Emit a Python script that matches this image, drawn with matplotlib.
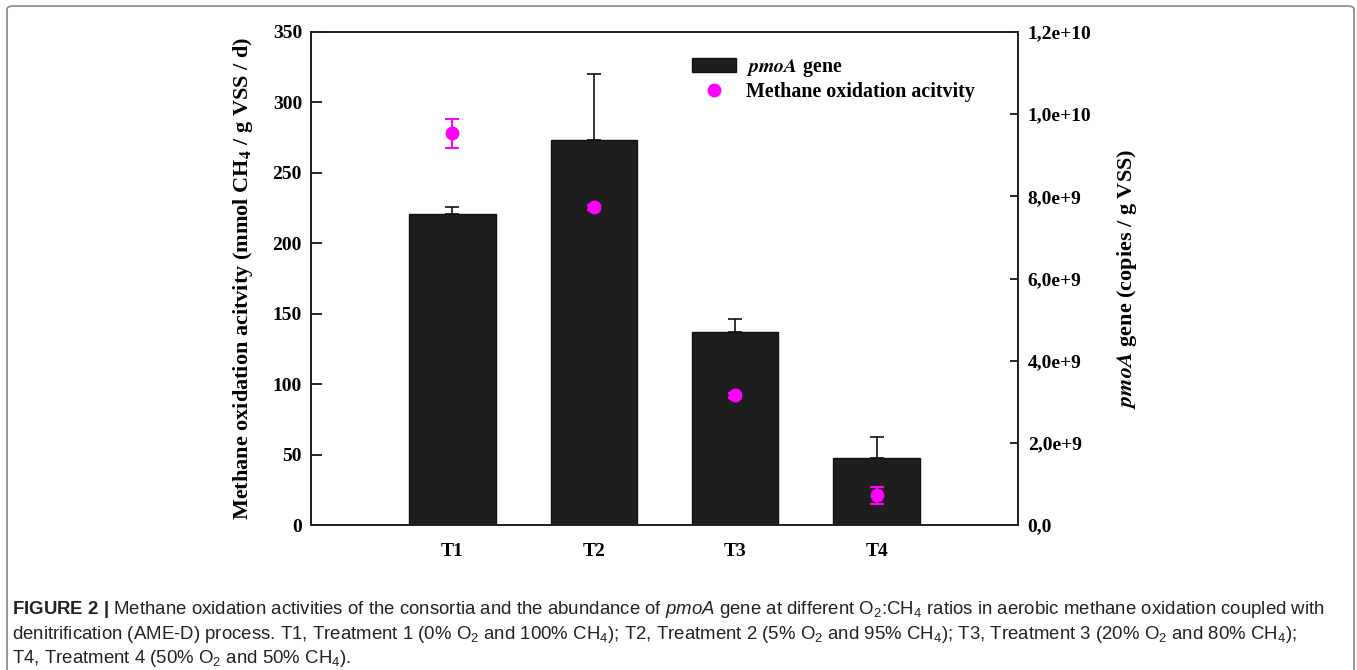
import matplotlib
matplotlib.use('Agg')
import matplotlib.pyplot as plt
from matplotlib.patches import Patch, FancyBboxPatch
from matplotlib.lines import Line2D

plt.rcParams['mathtext.fontset'] = 'custom'
plt.rcParams['mathtext.rm'] = 'Liberation Sans'
plt.rcParams['mathtext.it'] = 'Liberation Sans:italic'
plt.rcParams['mathtext.bf'] = 'Liberation Sans:bold'

# data
treatments = ['T1', 'T2', 'T3', 'T4']
pmoa_gene = [7.58e9, 9.37e9, 4.70e9, 1.63e9]
pmoa_err = [0.16e9, 1.61e9, 0.31e9, 0.51e9]
activity = [278.0, 225.5, 92.0, 21.0]
activity_err = [10.0, 2.0, 2.0, 6.0]
left_ticks = [0, 50, 100, 150, 200, 250, 300, 350]
right_ticks = [0, 2e9, 4e9, 6e9, 8e9, 1e10, 1.2e10]
right_labels = ['0,0', '2,0e+9', '4,0e+9', '6,0e+9', '8,0e+9', '1,0e+10', '1,2e+10']

serif = 'Liberation Serif'
magenta = '#ff00ff'

fig = plt.figure(figsize=(13.57, 6.70), dpi=100)
ax = fig.add_axes([311/1357, 1-525/670, 707/1357, 493/670])
ax2 = ax.twinx()

x = range(len(treatments))
ax2.bar(x, pmoa_gene, width=0.61, color='#1e1e1e', edgecolor='#111111', linewidth=1,
        yerr=[[0]*4, pmoa_err], capsize=5, error_kw=dict(ecolor='#111111', elinewidth=1.2, capthick=1.2))
ax.errorbar(x, activity, yerr=activity_err, fmt='o', color=magenta, ms=9,
            capsize=5, elinewidth=1.5, capthick=1.5)

ax.set_zorder(ax2.get_zorder() + 1)
ax.patch.set_visible(False)

ax.set_xlim(-1.0, 4.0)
ax.set_ylim(0, 350)
ax2.set_ylim(0, 1.2e10)
ax.set_yticks(left_ticks)
ax.set_yticklabels([str(t) for t in left_ticks])
ax2.set_yticks(right_ticks)
ax2.set_yticklabels(right_labels)
ax.set_xticks(list(x))
ax.set_xticklabels(treatments)

for a in (ax, ax2):
    for s in a.spines.values():
        s.set_linewidth(1.3)
        s.set_color('#222222')
    for lab in a.get_yticklabels() + a.get_xticklabels():
        lab.set_fontfamily(serif)
        lab.set_fontweight('bold')
        lab.set_fontsize(14)
ax.tick_params(axis='y', direction='in', length=8, width=1.2, pad=6.5)
ax2.tick_params(axis='y', direction='in', length=6, width=1.2, pad=7)
ax.tick_params(axis='x', length=0, pad=13)

ax.set_ylabel(r'Methane oxidation acitvity (mmol CH$_\mathbf{4}$ / g VSS / d)',
              fontfamily=serif, fontweight='bold', fontsize=16, labelpad=13,
              math_fontfamily='stix')
ax2.set_ylabel(r'$\mathbfit{pmoA}$ gene (copies / g VSS)',
               fontfamily=serif, fontweight='bold', fontsize=16, labelpad=17,
               math_fontfamily='stix')

handles = [Patch(facecolor='#1e1e1e', edgecolor='#111111'),
           Line2D([], [], ls='none', marker='o', color=magenta, ms=9)]
labels = [r'$\mathbfit{pmoA}$ gene', 'Methane oxidation acitvity']
leg = ax.legend(handles, labels, loc='upper left', bbox_to_anchor=(0.513, 0.985),
                frameon=False, handlelength=2.2, handleheight=0.7, handletextpad=0.5,
                labelspacing=0.15,
                prop=dict(family=serif, weight='bold', size=14.4, math_fontfamily='stix'))

# figure frame
fig.patches.append(FancyBboxPatch((7/1357, -0.05), 1347/1357, 1.05 - 6/670,
                                  boxstyle='round,pad=0,rounding_size=0.005',
                                  transform=fig.transFigure, fill=False,
                                  edgecolor='#888888', linewidth=1.2))

cap = dict(fontfamily='Liberation Sans', fontsize=13.4, color='#222222', va='baseline',
           math_fontfamily='custom')
fig.text(12/1357, 1-614/670,
         r'$\mathbf{FIGURE\ 2\ |}$ Methane oxidation activities of the consortia and the abundance of '
         r'$\mathit{pmoA}$ gene at different O$_2$:CH$_4$ ratios in aerobic methane oxidation coupled with',
         **cap)
fig.text(12/1357, 1-639/670,
         r'denitrification (AME-D) process. T1, Treatment 1 (0% O$_2$ and 100% CH$_4$); '
         r'T2, Treatment 2 (5% O$_2$ and 95% CH$_4$); T3, Treatment 3 (20% O$_2$ and 80% CH$_4$);',
         **cap)
fig.text(12/1357, 1-663/670,
         r'T4, Treatment 4 (50% O$_2$ and 50% CH$_4$).', **cap)

fig.savefig('out.png', dpi=100)
